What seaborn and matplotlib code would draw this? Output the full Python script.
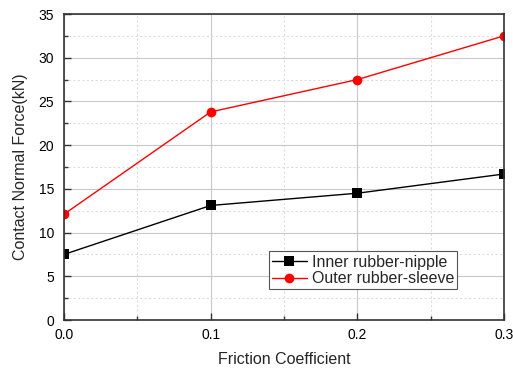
import matplotlib
matplotlib.use("Agg")
import matplotlib.pyplot as plt
import seaborn as sns
import pandas as pd
from matplotlib.ticker import MultipleLocator, FormatStrFormatter

friction = [0.0, 0.1, 0.2, 0.3]
inner = [7.5, 13.1, 14.5, 16.7]
outer = [12.1, 23.8, 27.5, 32.5]
series_names = ["Inner rubber-nipple", "Outer rubber-sleeve"]

df = pd.DataFrame({
    "Friction": friction * 2,
    "Force": inner + outer,
    "Series": [series_names[0]] * 4 + [series_names[1]] * 4,
})

sns.set_style("white")
plt.rcParams['font.family'] = ['Liberation Sans', 'DejaVu Sans']

fig = plt.figure(figsize=(5.13, 3.69), dpi=100)
ax = fig.add_axes([64/513, 49/369, 440/513, 306/369])

sns.lineplot(data=df, x="Friction", y="Force", hue="Series", style="Series",
             palette={series_names[0]: "black", series_names[1]: "red"},
             markers={series_names[0]: "s", series_names[1]: "o"},
             dashes=False, markersize=7, markeredgewidth=0, linewidth=1.0, ax=ax)

ax.set_xlim(0, 0.3)
ax.set_ylim(0, 35)
ax.xaxis.set_major_locator(MultipleLocator(0.1))
ax.xaxis.set_minor_locator(MultipleLocator(0.05))
ax.xaxis.set_major_formatter(FormatStrFormatter("%.1f"))
ax.yaxis.set_major_locator(MultipleLocator(5))
ax.yaxis.set_minor_locator(MultipleLocator(2.5))
ax.grid(True, which="major", color="#c8c8c8", linewidth=0.8, linestyle="-")
ax.grid(True, which="minor", color="#dddddd", linewidth=0.8, linestyle=(0, (2, 2)))
ax.set_axisbelow(True)
ax.tick_params(which="major", direction="in", length=5, width=1, labelsize=10,
               bottom=True, left=True, top=False, right=False, colors="#333333")
ax.tick_params(axis="x", which="major", pad=6)
ax.tick_params(axis="y", which="major", pad=7)
ax.tick_params(which="minor", direction="in", length=3, width=1,
               bottom=True, left=True, top=False, right=False, colors="#333333")
for lbl in ax.get_xticklabels() + ax.get_yticklabels():
    lbl.set_color("black")
for s in ax.spines.values():
    s.set_color("#333333")
    s.set_linewidth(1.2)

ax.set_xlabel("Friction Coefficient", fontsize=11.5, labelpad=7)
ax.set_ylabel("Contact Normal Force(kN)", fontsize=11.5, labelpad=8)

leg = ax.legend(loc="lower left", bbox_to_anchor=(0.465, 0.1), fontsize=11.5,
                frameon=True, fancybox=False, framealpha=1, edgecolor="#555555",
                borderpad=0.2, labelspacing=0.1, handlelength=2.2, handletextpad=0.3,
                borderaxespad=0)
leg.get_frame().set_linewidth(0.8)

fig.savefig("out.png", dpi=100)
